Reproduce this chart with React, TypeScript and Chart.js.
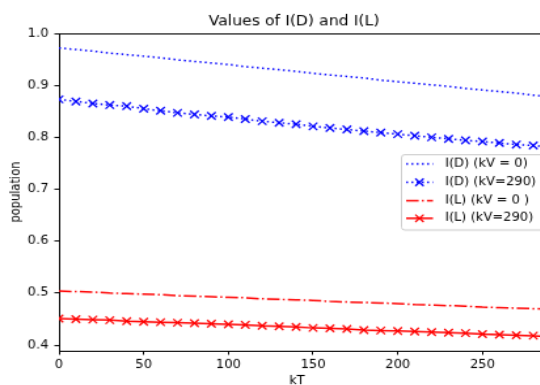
import React, { useEffect, useRef } from "react";
import { Chart, registerables } from "chart.js";

Chart.register(...registerables);

const kT = [0, 10, 20, 30, 40, 50, 60, 70, 80, 90, 100, 110, 120, 130, 140, 150, 160, 170, 180, 190, 200, 210, 220, 230, 240, 250, 260, 270, 280, 290];
const idKv0 = [0.972, 0.969, 0.966, 0.962, 0.959, 0.956, 0.953, 0.949, 0.946, 0.943, 0.940, 0.936, 0.933, 0.930, 0.927, 0.923, 0.920, 0.917, 0.914, 0.910, 0.907, 0.904, 0.901, 0.898, 0.894, 0.891, 0.888, 0.885, 0.881, 0.878];
const idKv290 = [0.873, 0.869, 0.865, 0.862, 0.860, 0.855, 0.851, 0.847, 0.844, 0.841, 0.839, 0.835, 0.831, 0.828, 0.825, 0.821, 0.818, 0.815, 0.812, 0.809, 0.806, 0.803, 0.800, 0.797, 0.794, 0.792, 0.789, 0.786, 0.784, 0.781];
const ilKv0 = [0.504, 0.503, 0.502, 0.500, 0.499, 0.498, 0.497, 0.495, 0.494, 0.493, 0.492, 0.491, 0.489, 0.488, 0.487, 0.486, 0.484, 0.483, 0.482, 0.481, 0.480, 0.478, 0.477, 0.476, 0.475, 0.473, 0.472, 0.471, 0.470, 0.469];
const ilKv290 = [0.451, 0.450, 0.449, 0.448, 0.446, 0.445, 0.444, 0.443, 0.442, 0.441, 0.440, 0.439, 0.437, 0.436, 0.435, 0.433, 0.432, 0.431, 0.429, 0.428, 0.427, 0.426, 0.425, 0.424, 0.423, 0.421, 0.420, 0.419, 0.418, 0.416];

const xTicks = [0, 50, 100, 150, 200, 250];
const yTicks = [0.4, 0.5, 0.6, 0.7, 0.8, 0.9, 1.0];
const seriesLabels = ["I(D) (kV = 0)", "I(D) (kV=290)", "I(L) (kV = 0 )", "I(L) (kV=290)"];
const titleText = "Values of I(D) and I(L)";
const xLabel = "kT";
const yLabel = "population";

// the reference picture is stretched: wider than tall
const SX = 1.31;
const SY = 1.15;
const CW = 428;
const CH = 335;

const FONT = '"DejaVu Sans", sans-serif';
const BLUE = "#0000ff";
const RED = "#ff0000";
const DOT = [1.5, 2.5];
const DASHDOT = [9.6, 2.4, 1.5, 2.4];

const legendStyles = [
  { color: BLUE, dash: DOT, marker: false },
  { color: BLUE, dash: DOT, marker: true },
  { color: RED, dash: DASHDOT, marker: false },
  { color: RED, dash: [] as number[], marker: true },
];

const pts = (ys: number[]) => kT.map((x, i) => ({ x, y: ys[i] }));

const decor = {
  id: "decor",
  afterDraw(chart: any) {
    const { ctx, chartArea: a } = chart;
    ctx.save();
    // top spine
    ctx.strokeStyle = "#000";
    ctx.lineWidth = 1;
    ctx.setLineDash([]);
    ctx.beginPath();
    ctx.moveTo(a.left, Math.round(a.top) + 0.5);
    ctx.lineTo(a.right, Math.round(a.top) + 0.5);
    ctx.stroke();
    // title and x label
    ctx.fillStyle = "#000";
    ctx.textAlign = "center";
    ctx.textBaseline = "middle";
    ctx.font = `12px ${FONT}`;
    ctx.fillText(titleText, 224.4, 18.6);
    ctx.font = `10px ${FONT}`;
    ctx.fillText(xLabel, 226.7, 331.5);
    // legend
    const bx = 306, by = 134, bw = 110, bh = 65.5;
    ctx.beginPath();
    ctx.roundRect(bx + 0.5, by + 0.5, bw, bh, 2.5);
    ctx.fillStyle = "rgba(255,255,255,0.8)";
    ctx.fill();
    ctx.strokeStyle = "#cccccc";
    ctx.lineWidth = 1;
    ctx.stroke();
    const rows = [142.6, 158.5, 174.5, 189.8];
    legendStyles.forEach((s, i) => {
      const y = rows[i];
      ctx.strokeStyle = s.color;
      ctx.lineWidth = 1.5;
      ctx.setLineDash(s.dash);
      ctx.beginPath();
      ctx.moveTo(310, y);
      ctx.lineTo(330.5, y);
      ctx.stroke();
      ctx.setLineDash([]);
      if (s.marker) {
        const cx = 320.2, r = 3.2;
        ctx.lineWidth = 1.3;
        ctx.beginPath();
        ctx.moveTo(cx - r, y - r);
        ctx.lineTo(cx + r, y + r);
        ctx.moveTo(cx - r, y + r);
        ctx.lineTo(cx + r, y - r);
        ctx.stroke();
      }
      ctx.fillStyle = "#000";
      ctx.textAlign = "left";
      ctx.textBaseline = "middle";
      ctx.font = `10px ${FONT}`;
      ctx.fillText(seriesLabels[i], 339.7, y);
    });
    ctx.restore();
  },
};

export default function App() {
  const ref = useRef<HTMLCanvasElement>(null);
  useEffect(() => {
    const chart = new Chart(ref.current as HTMLCanvasElement, {
      type: "line",
      data: {
        datasets: [
          {
            label: seriesLabels[0],
            data: pts(idKv0),
            borderColor: BLUE,
            borderWidth: 1.5,
            borderDash: DOT,
            pointRadius: 0,
            fill: false,
          },
          {
            label: seriesLabels[1],
            data: pts(idKv290),
            borderColor: BLUE,
            borderWidth: 1.5,
            borderDash: DOT,
            pointStyle: "crossRot",
            pointRadius: 4.6,
            pointBorderWidth: 1.3,
            pointBorderColor: BLUE,
            fill: false,
          },
          {
            label: seriesLabels[2],
            data: pts(ilKv0),
            borderColor: RED,
            borderWidth: 1.5,
            borderDash: DASHDOT,
            pointRadius: 0,
            fill: false,
          },
          {
            label: seriesLabels[3],
            data: pts(ilKv290),
            borderColor: RED,
            borderWidth: 1.5,
            pointStyle: "crossRot",
            pointRadius: 4.6,
            pointBorderWidth: 1.3,
            pointBorderColor: RED,
            fill: false,
          },
        ],
      },
      options: {
        animation: false,
        responsive: false,
        layout: { padding: { top: 29, right: 8, left: 0, bottom: 0 } },
        plugins: {
          legend: { display: false },
          title: { display: false },
          tooltip: { enabled: false },
        },
        scales: {
          x: {
            type: "linear",
            min: 0,
            max: 290,
            afterBuildTicks: (s: any) => {
              s.ticks = xTicks.map((v) => ({ value: v }));
            },
            afterFit: (s: any) => {
              s.height = 30;
            },
            grid: { drawOnChartArea: false, drawTicks: true, tickLength: 3.5, color: "#000" },
            border: { display: true, color: "#000", width: 1 },
            ticks: {
              color: "#000",
              font: { family: FONT, size: 10 },
              padding: 3,
              maxRotation: 0,
              autoSkip: false,
              callback: (v: any) => String(v),
            },
          },
          y: {
            type: "linear",
            min: 0.389,
            max: 1.0,
            afterBuildTicks: (s: any) => {
              s.ticks = yTicks.map((v) => ({ value: v }));
            },
            afterFit: (s: any) => {
              s.width = 45;
            },
            grid: { drawOnChartArea: false, drawTicks: true, tickLength: 3.5, color: "#000" },
            border: { display: true, color: "#000", width: 1 },
            ticks: {
              color: "#000",
              font: { family: FONT, size: 10 },
              padding: 4.5,
              autoSkip: false,
              callback: (v: any) => Number(v).toFixed(1),
            },
            title: {
              display: true,
              text: yLabel,
              color: "#000",
              font: { family: FONT, size: 10 },
              padding: { top: 6, bottom: 0 },
            },
          },
        },
      },
      plugins: [decor],
    });
    return () => chart.destroy();
  }, []);
  return (
    <div style={{ position: "absolute", left: 0, top: 0, width: 540, height: 385, overflow: "hidden", background: "#fff" }}>
      <div style={{ width: CW, height: CH, transform: `scale(${SX}, ${SY})`, transformOrigin: "0 0" }}>
        <canvas ref={ref} width={CW} height={CH} style={{ display: "block" }} />
      </div>
    </div>
  );
}
